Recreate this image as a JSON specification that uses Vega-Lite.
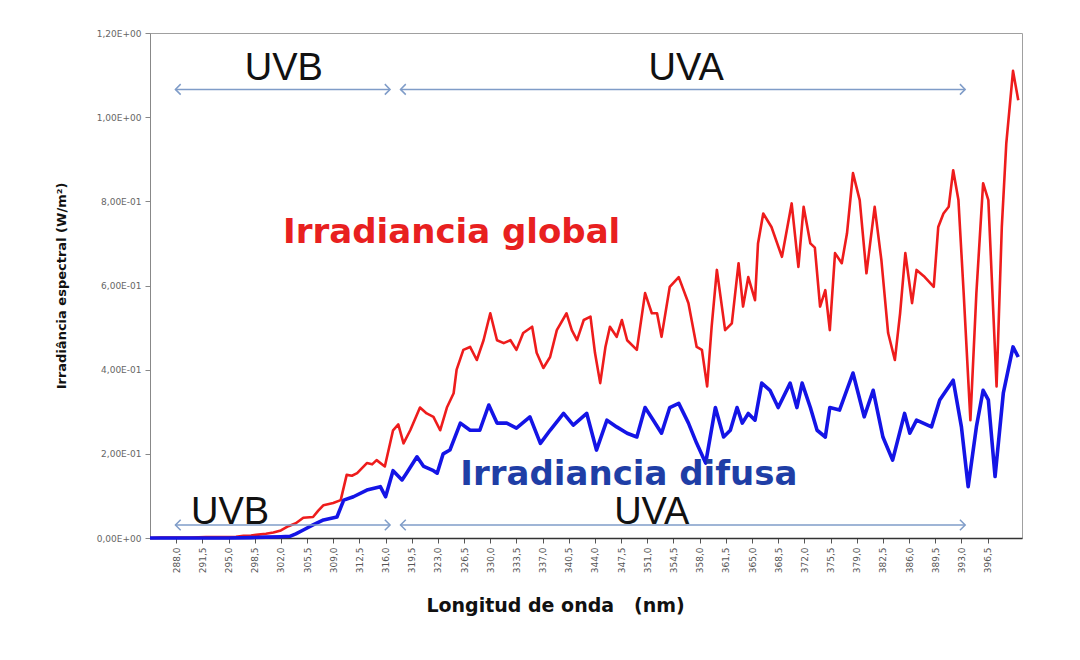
{
  "$schema": "https://vega.github.io/schema/vega-lite/v6.json",
  "width": 872,
  "height": 505,
  "autosize": {"type": "none"},
  "padding": {"left": 150, "top": 33, "right": 58, "bottom": 122},
  "background": "white",
  "config": {
    "view": {"stroke": "#a0a0a0", "strokeWidth": 1},
    "axis": {"grid": false, "labelFont": "DejaVu Sans", "titleFont": "DejaVu Sans"}
  },
  "datasets": {
    "global": [
      {"nm": 284.5, "v": 0}, {"nm": 286, "v": 0.001}, {"nm": 288, "v": 0.001}, {"nm": 290, "v": 0.001},
      {"nm": 292, "v": 0.002}, {"nm": 294, "v": 0.002}, {"nm": 296, "v": 0.003}, {"nm": 297, "v": 0.005},
      {"nm": 298, "v": 0.006}, {"nm": 299, "v": 0.008}, {"nm": 300, "v": 0.01}, {"nm": 301, "v": 0.013},
      {"nm": 302, "v": 0.018}, {"nm": 303, "v": 0.028}, {"nm": 304, "v": 0.035}, {"nm": 305, "v": 0.048},
      {"nm": 306.3, "v": 0.05}, {"nm": 307, "v": 0.065}, {"nm": 307.7, "v": 0.078}, {"nm": 309, "v": 0.083},
      {"nm": 310, "v": 0.09}, {"nm": 310.8, "v": 0.15}, {"nm": 311.5, "v": 0.148}, {"nm": 312.2, "v": 0.154},
      {"nm": 313.5, "v": 0.178}, {"nm": 314.2, "v": 0.175}, {"nm": 314.8, "v": 0.185}, {"nm": 315.9, "v": 0.17},
      {"nm": 317, "v": 0.256}, {"nm": 317.7, "v": 0.27}, {"nm": 318.4, "v": 0.225}, {"nm": 319.3, "v": 0.256},
      {"nm": 320.6, "v": 0.31}, {"nm": 321.5, "v": 0.296}, {"nm": 322.4, "v": 0.288}, {"nm": 323.3, "v": 0.256},
      {"nm": 324.2, "v": 0.31}, {"nm": 325.1, "v": 0.344}, {"nm": 325.5, "v": 0.4}, {"nm": 326.4, "v": 0.447},
      {"nm": 327.3, "v": 0.454}, {"nm": 328.2, "v": 0.423}, {"nm": 329.1, "v": 0.47}, {"nm": 330, "v": 0.534},
      {"nm": 330.9, "v": 0.47}, {"nm": 331.8, "v": 0.463}, {"nm": 332.7, "v": 0.47}, {"nm": 333.5, "v": 0.447},
      {"nm": 334.4, "v": 0.487}, {"nm": 335.6, "v": 0.502}, {"nm": 336.2, "v": 0.44}, {"nm": 337.1, "v": 0.404},
      {"nm": 338, "v": 0.43}, {"nm": 338.9, "v": 0.494}, {"nm": 340.2, "v": 0.534}, {"nm": 340.9, "v": 0.494},
      {"nm": 341.6, "v": 0.47}, {"nm": 342.5, "v": 0.518}, {"nm": 343.4, "v": 0.526}, {"nm": 344, "v": 0.44},
      {"nm": 344.7, "v": 0.368}, {"nm": 345.4, "v": 0.454}, {"nm": 346, "v": 0.502}, {"nm": 346.9, "v": 0.478},
      {"nm": 347.6, "v": 0.518}, {"nm": 348.3, "v": 0.47}, {"nm": 349.6, "v": 0.447}, {"nm": 350.7, "v": 0.582},
      {"nm": 351.6, "v": 0.534}, {"nm": 352.3, "v": 0.534}, {"nm": 352.9, "v": 0.478}, {"nm": 354, "v": 0.597},
      {"nm": 355.2, "v": 0.62}, {"nm": 356.5, "v": 0.558}, {"nm": 357.6, "v": 0.454}, {"nm": 358.3, "v": 0.447},
      {"nm": 359, "v": 0.36}, {"nm": 359.6, "v": 0.502}, {"nm": 360.3, "v": 0.637}, {"nm": 361.4, "v": 0.494},
      {"nm": 362.3, "v": 0.51}, {"nm": 363.2, "v": 0.653}, {"nm": 363.8, "v": 0.55}, {"nm": 364.5, "v": 0.62},
      {"nm": 365.4, "v": 0.565}, {"nm": 365.8, "v": 0.7}, {"nm": 366.5, "v": 0.771}, {"nm": 367.6, "v": 0.739},
      {"nm": 369, "v": 0.668}, {"nm": 370.3, "v": 0.795}, {"nm": 371.2, "v": 0.644}, {"nm": 371.9, "v": 0.787},
      {"nm": 372.8, "v": 0.7}, {"nm": 373.4, "v": 0.69}, {"nm": 374.1, "v": 0.55}, {"nm": 374.8, "v": 0.589},
      {"nm": 375.4, "v": 0.494}, {"nm": 376.1, "v": 0.677}, {"nm": 377, "v": 0.653}, {"nm": 377.7, "v": 0.724},
      {"nm": 378.5, "v": 0.867}, {"nm": 379.4, "v": 0.803}, {"nm": 380.3, "v": 0.629}, {"nm": 381.4, "v": 0.787},
      {"nm": 382.3, "v": 0.66}, {"nm": 383.2, "v": 0.487}, {"nm": 384.1, "v": 0.423}, {"nm": 384.8, "v": 0.534},
      {"nm": 385.5, "v": 0.677}, {"nm": 386.4, "v": 0.558}, {"nm": 387, "v": 0.637}, {"nm": 388.1, "v": 0.62},
      {"nm": 389.3, "v": 0.597}, {"nm": 389.9, "v": 0.739}, {"nm": 390.6, "v": 0.771}, {"nm": 391.3, "v": 0.787},
      {"nm": 391.9, "v": 0.874}, {"nm": 392.6, "v": 0.803}, {"nm": 393.3, "v": 0.582}, {"nm": 394.2, "v": 0.28},
      {"nm": 395, "v": 0.582}, {"nm": 395.9, "v": 0.843}, {"nm": 396.6, "v": 0.803}, {"nm": 397.7, "v": 0.36},
      {"nm": 398.4, "v": 0.739}, {"nm": 399, "v": 0.938}, {"nm": 399.9, "v": 1.11}, {"nm": 400.6, "v": 1.04}
    ],
    "difusa": [
      {"nm": 284.5, "v": 0}, {"nm": 290, "v": 0}, {"nm": 295, "v": 0}, {"nm": 298, "v": 0.001},
      {"nm": 300, "v": 0.002}, {"nm": 302, "v": 0.003}, {"nm": 303.2, "v": 0.004}, {"nm": 304, "v": 0.01},
      {"nm": 305, "v": 0.019}, {"nm": 306.3, "v": 0.031}, {"nm": 307.7, "v": 0.043}, {"nm": 309.5, "v": 0.05},
      {"nm": 310.4, "v": 0.09}, {"nm": 311.7, "v": 0.098}, {"nm": 313.5, "v": 0.114}, {"nm": 315.3, "v": 0.122},
      {"nm": 316, "v": 0.098}, {"nm": 317, "v": 0.16}, {"nm": 318.2, "v": 0.138}, {"nm": 318.8, "v": 0.154},
      {"nm": 320.2, "v": 0.193}, {"nm": 321.1, "v": 0.17}, {"nm": 322.4, "v": 0.16}, {"nm": 322.9, "v": 0.154},
      {"nm": 323.7, "v": 0.2}, {"nm": 324.6, "v": 0.209}, {"nm": 326, "v": 0.273}, {"nm": 327.3, "v": 0.256},
      {"nm": 328.6, "v": 0.256}, {"nm": 329.8, "v": 0.316}, {"nm": 330.9, "v": 0.273}, {"nm": 332.2, "v": 0.273},
      {"nm": 333.5, "v": 0.261}, {"nm": 335.3, "v": 0.288}, {"nm": 336.7, "v": 0.225}, {"nm": 338, "v": 0.256},
      {"nm": 339.8, "v": 0.296}, {"nm": 341.1, "v": 0.268}, {"nm": 342.9, "v": 0.296}, {"nm": 344.2, "v": 0.209},
      {"nm": 345.6, "v": 0.28}, {"nm": 346.9, "v": 0.264}, {"nm": 348.3, "v": 0.249}, {"nm": 349.6, "v": 0.24},
      {"nm": 350.7, "v": 0.31}, {"nm": 351.8, "v": 0.28}, {"nm": 352.9, "v": 0.249}, {"nm": 354, "v": 0.31},
      {"nm": 355.2, "v": 0.32}, {"nm": 356.5, "v": 0.273}, {"nm": 357.6, "v": 0.225}, {"nm": 358.8, "v": 0.178},
      {"nm": 360.1, "v": 0.31}, {"nm": 361.2, "v": 0.24}, {"nm": 362.1, "v": 0.256}, {"nm": 363, "v": 0.31},
      {"nm": 363.7, "v": 0.273}, {"nm": 364.5, "v": 0.296}, {"nm": 365.4, "v": 0.28}, {"nm": 366.3, "v": 0.368},
      {"nm": 367.4, "v": 0.351}, {"nm": 368.5, "v": 0.31}, {"nm": 370.1, "v": 0.368}, {"nm": 371, "v": 0.31},
      {"nm": 371.7, "v": 0.368}, {"nm": 372.8, "v": 0.31}, {"nm": 373.7, "v": 0.256}, {"nm": 374.8, "v": 0.24},
      {"nm": 375.4, "v": 0.31}, {"nm": 376.7, "v": 0.304}, {"nm": 378.5, "v": 0.392}, {"nm": 380, "v": 0.288},
      {"nm": 381.2, "v": 0.351}, {"nm": 382.5, "v": 0.24}, {"nm": 383.8, "v": 0.185}, {"nm": 385.4, "v": 0.296},
      {"nm": 386.1, "v": 0.249}, {"nm": 387, "v": 0.28}, {"nm": 389, "v": 0.264}, {"nm": 390.1, "v": 0.328},
      {"nm": 391.9, "v": 0.375}, {"nm": 393, "v": 0.264}, {"nm": 393.9, "v": 0.122}, {"nm": 395, "v": 0.264},
      {"nm": 395.9, "v": 0.351}, {"nm": 396.6, "v": 0.328}, {"nm": 397.5, "v": 0.146}, {"nm": 398.6, "v": 0.344},
      {"nm": 399.9, "v": 0.454}, {"nm": 400.6, "v": 0.43}
    ],
    "bands": [
      {"label": "UVB", "start": 287.9, "end": 316.6, "mid": 302.4, "yArrow": 1.066, "yText": 1.088},
      {"label": "UVA", "start": 318.0, "end": 393.5, "mid": 356.2, "yArrow": 1.066, "yText": 1.088},
      {"label": "UVB", "start": 287.9, "end": 316.6, "mid": 295.2, "yArrow": 0.031, "yText": 0.033},
      {"label": "UVA", "start": 318.0, "end": 393.5, "mid": 351.6, "yArrow": 0.031, "yText": 0.033}
    ],
    "notes": [
      {"label": "Irradiancia global", "nm": 302.3, "v": 0.7, "series": "global"},
      {"label": "Irradiancia difusa", "nm": 326.0, "v": 0.127, "series": "difusa"}
    ]
  },
  "encoding": {
    "x": {
      "field": "nm", "type": "quantitative",
      "scale": {"domain": [284.5, 401.1], "nice": false, "zero": false},
      "axis": {
        "title": "Longitud de onda\u00a0\u00a0\u00a0(nm)",
        "titleFontSize": 19, "titleFontWeight": "bold", "titleColor": "#111",
        "titleX": 405, "titleY": 73, "titleBaseline": "alphabetic",
        "values": [288, 291.5, 295, 298.5, 302, 305.5, 309, 312.5, 316, 319.5, 323, 326.5, 330, 333.5, 337, 340.5, 344, 347.5, 351, 354.5, 358, 361.5, 365, 368.5, 372, 375.5, 379, 382.5, 386, 389.5, 393, 396.5],
        "labelExpr": "replace(format(datum.value, '.1f'), '.', ',')",
        "labelAngle": 270, "labelFontSize": 9, "labelColor": "#555",
        "labelPadding": 4, "tickSize": 5, "tickColor": "#555",
        "domainColor": "#333", "domainWidth": 1.5, "labelOverlap": false
      }
    },
    "y": {
      "field": "v", "type": "quantitative",
      "scale": {"domain": [0, 1.2], "nice": false},
      "axis": {
        "title": "Irradiância espectral (W/m²)",
        "titleFontSize": 13, "titleFontWeight": "bold", "titleColor": "#111",
        "titleX": -82,
        "values": [0, 0.2, 0.4, 0.6, 0.8, 1.0, 1.2],
        "labelExpr": "datum.value == 0 ? '0,00E+00' : (datum.value >= 1 ? replace(format(datum.value, '.2f'), '.', ',') + 'E+00' : replace(format(datum.value * 10, '.2f'), '.', ',') + 'E-01')",
        "labelFontSize": 9, "labelColor": "#666", "labelPadding": 4,
        "tickSize": 5, "tickColor": "#888", "domainColor": "#888"
      }
    }
  },
  "layer": [
    {
      "data": {"name": "global"},
      "mark": {"type": "line", "color": "#ee1c1c", "strokeWidth": 2.6, "strokeJoin": "round"},
      "encoding": {}
    },
    {
      "data": {"name": "difusa"},
      "mark": {"type": "line", "color": "#1414e6", "strokeWidth": 3.6, "strokeJoin": "round"},
      "encoding": {}
    },
    {
      "data": {"name": "bands"},
      "mark": {"type": "rule", "color": "#7f9cc8", "strokeWidth": 1.5},
      "encoding": {
        "x": {"field": "start", "type": "quantitative"},
        "x2": {"field": "end"},
        "y": {"field": "yArrow", "type": "quantitative"}
      }
    },
    {
      "data": {"name": "bands"},
      "mark": {"type": "point", "shape": "M1,-1L0,0L1,1", "filled": false, "size": 110, "color": "#7f9cc8", "strokeWidth": 1.5, "opacity": 1},
      "encoding": {
        "x": {"field": "start", "type": "quantitative"},
        "y": {"field": "yArrow", "type": "quantitative"}
      }
    },
    {
      "data": {"name": "bands"},
      "mark": {"type": "point", "shape": "M-1,-1L0,0L-1,1", "filled": false, "size": 110, "color": "#7f9cc8", "strokeWidth": 1.5, "opacity": 1},
      "encoding": {
        "x": {"field": "end", "type": "quantitative"},
        "y": {"field": "yArrow", "type": "quantitative"}
      }
    },
    {
      "data": {"name": "bands"},
      "mark": {"type": "text", "font": "Liberation Sans", "fontSize": 38, "color": "#111", "align": "center", "baseline": "alphabetic"},
      "encoding": {
        "x": {"field": "mid", "type": "quantitative"},
        "y": {"field": "yText", "type": "quantitative"},
        "text": {"field": "label"}
      }
    },
    {
      "data": {"name": "notes"},
      "mark": {"type": "text", "font": "DejaVu Sans", "fontWeight": "bold", "fontSize": 34, "align": "left", "baseline": "alphabetic"},
      "encoding": {
        "x": {"field": "nm", "type": "quantitative"},
        "y": {"field": "v", "type": "quantitative"},
        "text": {"field": "label"},
        "color": {"field": "series", "type": "nominal", "scale": {"domain": ["global", "difusa"], "range": ["#e8201f", "#1f3ea6"]}, "legend": null}
      }
    }
  ]
}
